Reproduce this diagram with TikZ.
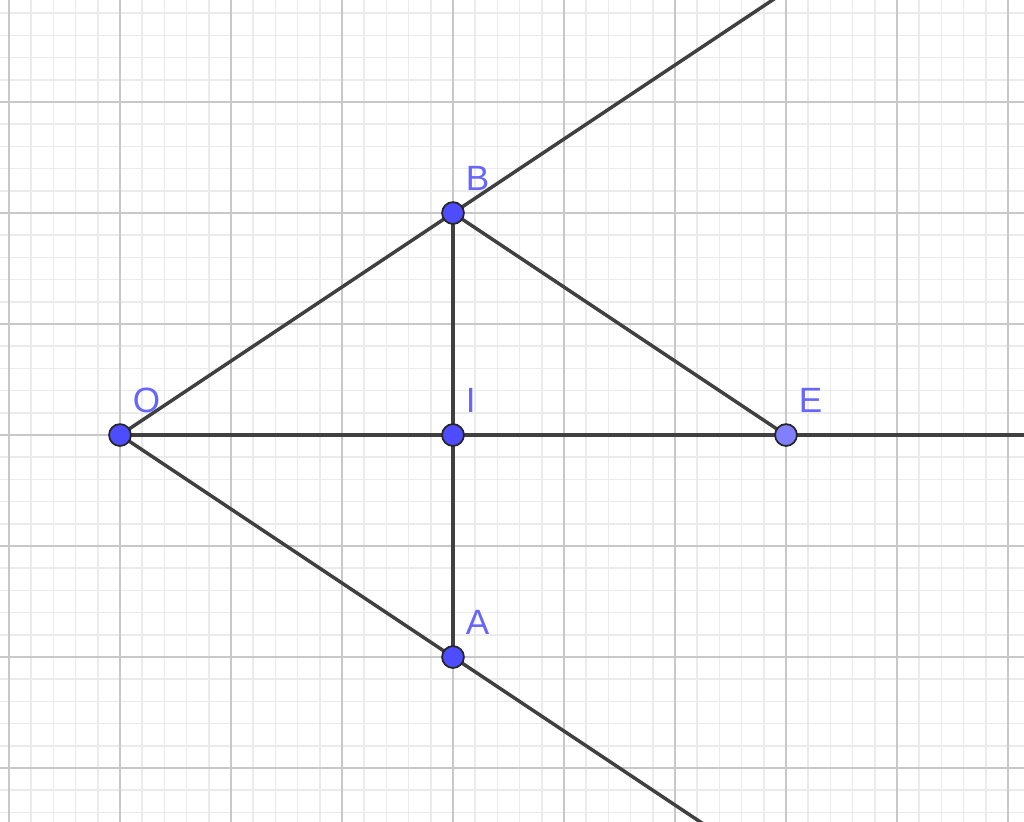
\documentclass[tikz,border=0pt]{standalone}
\usepackage{fontspec}
\setmainfont{Liberation Sans}
\usetikzlibrary{calc}
\definecolor{ptblue}{HTML}{4D4DFF}
\definecolor{ptlight}{HTML}{8080FF}
\definecolor{lblblue}{HTML}{6666FF}
\definecolor{segdark}{HTML}{404040}
\definecolor{gridmajor}{HTML}{C8C8C8}
\definecolor{gridminor}{HTML}{EBEBEB}
\begin{document}
\begin{tikzpicture}[
   pt/.style={circle, draw=black!85, fill=ptblue, line width=0.45pt,
              inner sep=0pt, minimum size=5.6pt},
   freept/.style={pt, fill=ptlight},
   lbl/.style={text=lblblue, font=\fontsize{9}{10}\selectfont,
               anchor=base west, inner sep=0pt},
   seg/.style={segdark, line width=0.9pt}]

\useasboundingbox (-1.081,-3.486) rectangle (8.144,3.919);
\clip (-1.081,-3.486) rectangle (8.144,3.919);

% grid
\draw[gridminor, line width=0.4pt, step=0.2] (-1.2,-3.6) grid (8.4,4);
\draw[gridmajor, line width=0.5pt, step=1] (-1.2,-3.6) grid (8.4,4);

\coordinate (O) at (0,0);
\coordinate (I) at (3,0);
\coordinate (B) at (3,2);
\coordinate (A) at (3,-2);
\coordinate (E) at (6,0);

% rays and segments
\draw[seg] (O) -- ($(O)!3!(B)$);
\draw[seg] (O) -- ($(O)!3!(A)$);
\draw[seg] (O) -- ($(O)!2!(E)$);
\draw[seg] (B) -- (A);
\draw[seg] (B) -- (E);

% points
\node[pt] (pO) at (O) {};
\node[pt] (pI) at (I) {};
\node[pt] (pB) at (B) {};
\node[pt] (pA) at (A) {};
\node[freept] (pE) at (E) {};

\node[lbl] (lO) at ($(O)+(0.11,0.2)$) {O};
\node[lbl] (lI) at ($(I)+(0.11,0.2)$) {I};
\node[lbl] (lB) at ($(B)+(0.11,0.2)$) {B};
\node[lbl] (lA) at ($(A)+(0.11,0.2)$) {A};
\node[lbl] (lE) at ($(E)+(0.11,0.2)$) {E};

\end{tikzpicture}
\end{document}
